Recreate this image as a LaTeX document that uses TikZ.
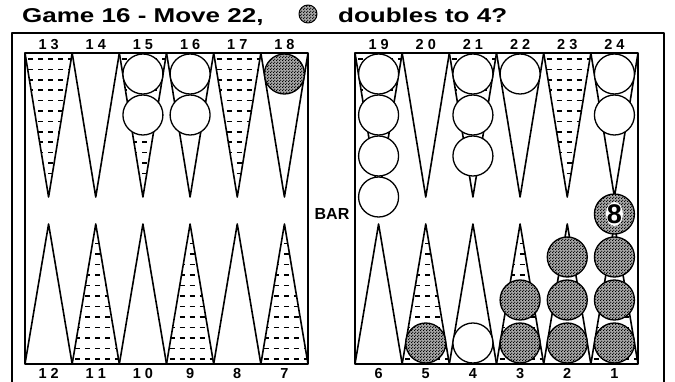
\documentclass[tikz,border=0pt]{standalone}
\usepackage{fontspec}
\setmainfont{Liberation Sans}
\newfontfamily\titlefont[FakeStretch=1.3]{Liberation Sans}
\usetikzlibrary{patterns}

% width of one point
\newcommand\ptw{47.17}

% stipple of the dark checkers
\pgfdeclarepatternformonly{stipple}{\pgfpointorigin}{\pgfqpoint{3pt}{3pt}}{\pgfqpoint{3pt}{3pt}}{%
    \pgfpathcircle{\pgfqpoint{0.75pt}{0.75pt}}{0.85pt}%
    \pgfpathcircle{\pgfqpoint{2.25pt}{2.25pt}}{0.85pt}%
    \pgfusepath{fill}}

\begin{document}
\begin{tikzpicture}[x=1pt,y=-1pt,line join=round,
    board/.style={line width=1.5pt},
    spike/.style={line width=1.6pt},
    dashrow/.style={line width=1.7pt,dash pattern=on 5pt off 5pt},
    whitechk/.style={draw,line width=1.3pt,fill=white},
    darkchk/.style={draw,line width=1.3pt,preaction={fill=black!35},pattern=stipple},
    num/.style={font=\bfseries\fontsize{14.5}{14.5}\selectfont,inner sep=0pt,anchor=base}]
    \useasboundingbox (0,0) rectangle (675,382);

    % title
    \node[anchor=base west,inner sep=0pt,font=\titlefont\bfseries\fontsize{20}{20}\selectfont]
        (title) at (22,22.5) {Game 16 - Move 22,};
    \node[darkchk,circle,minimum size=18pt,inner sep=0pt,line width=1pt] (icon) at (308,14) {};
    \node[anchor=base west,inner sep=0pt,font=\titlefont\bfseries\fontsize{20}{20}\selectfont]
        (title2) at (338,22.5) {doubles to 4?};

    % frame and the two halves of the board
    \draw[board] (12,382) -- (12,33) -- (664,33) -- (664,382);
    \draw[board] (25,53) rectangle (308,364);
    \draw[board] (355,53) rectangle (638,364);
    \node[font=\bfseries\fontsize{16}{16}\selectfont,inner sep=0pt] (bar) at (332,214) {BAR};

    \foreach \bx in {25,355} {
        % dashed points
        \foreach \i in {0,2,4} {
            \begin{scope}
                \clip (\bx+\i*\ptw,53) -- ++(\ptw/2,144) -- ++(\ptw/2,-144) -- cycle;
                \foreach \k in {0,...,11}
                    \draw[dashrow] (\bx+\i*\ptw+3,59+\k*10.4) -- ++(\ptw,0);
            \end{scope}
        }
        \foreach \i in {1,3,5} {
            \begin{scope}
                \clip (\bx+\i*\ptw,364) -- ++(\ptw/2,-140) -- ++(\ptw/2,140) -- cycle;
                \foreach \k in {0,...,11}
                    \draw[dashrow] (\bx+\i*\ptw+3,359-\k*10.5) -- ++(\ptw,0);
            \end{scope}
        }
        % outlines of the points
        \foreach \i in {0,...,5} {
            \draw[spike] (\bx+\i*\ptw,53) -- ++(\ptw/2,144) -- ++(\ptw/2,-144);
            \draw[spike] (\bx+\i*\ptw,364) -- ++(\ptw/2,-140) -- ++(\ptw/2,140);
        }
    }

    % point numbers
    \foreach \lab [count=\i from 0] in {1 3,1 4,1 5,1 6,1 7,1 8}
        \node[num] (t\i) at (25+\i*\ptw+\ptw/2,50) {\lab};
    \foreach \lab [count=\i from 0] in {1 9,2 0,2 1,2 2,2 3,2 4}
        \node[num] (u\i) at (355+\i*\ptw+\ptw/2,50) {\lab};
    \foreach \lab [count=\i from 0] in {1 2,1 1,1 0,9,8,7}
        \node[num] (b\i) at (25+\i*\ptw+\ptw/2,378.5) {\lab};
    \foreach \lab [count=\i from 0] in {6,5,4,3,2,1}
        \node[num] (c\i) at (355+\i*\ptw+\ptw/2,378.5) {\lab};

    % checkers on the top points
    \foreach \bx/\i/\n in {25/2/2,25/3/2,355/0/4,355/2/3,355/3/1,355/5/2}
        \foreach \k in {1,...,\n}
            \draw[whitechk] (\bx+\i*\ptw+\ptw/2,74+41*\k-41) circle (20);
    \draw[darkchk] (25+5*\ptw+\ptw/2,74) circle (20);

    % checkers on the bottom points
    \draw[whitechk] (355+2*\ptw+\ptw/2,343) circle (20);
    \foreach \i/\n in {1/1,3/2,4/3,5/4}
        \foreach \k in {1,...,\n}
            \draw[darkchk] (355+\i*\ptw+\ptw/2,386-43*\k) circle (20);

    % stack count
    \fill[white] (355+5*\ptw+\ptw/2,214) ellipse (8.5 and 12);
    \node[font=\bfseries\fontsize{27}{27}\selectfont,inner sep=0pt] (eight)
        at (355+5*\ptw+\ptw/2,214) {8};
\end{tikzpicture}
\end{document}
